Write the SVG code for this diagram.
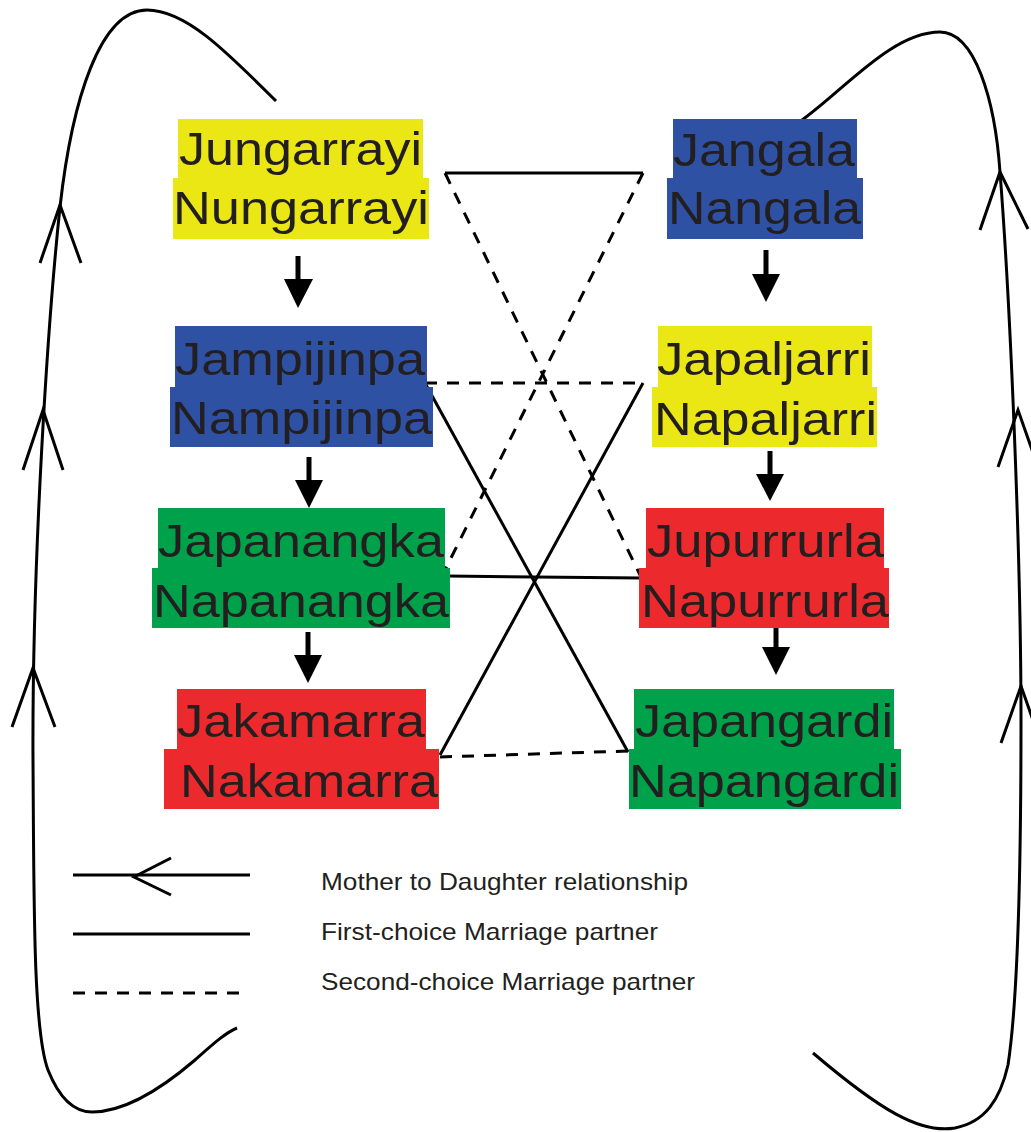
<svg xmlns="http://www.w3.org/2000/svg" width="1031" height="1132" viewBox="0 0 1031 1132">
<style>
.t{font-family:"Liberation Sans",Arial,sans-serif;font-size:46px;fill:#231f20}
.lg{font-family:"Liberation Sans",Arial,sans-serif;font-size:24px;fill:#231f20}
.y{fill:#eae715}.b{fill:#2e51a3}.g{fill:#00a14b}.r{fill:#ec2a2e}
.s{stroke:#000;stroke-width:3;fill:none}
.d{stroke:#000;stroke-width:3;fill:none;stroke-dasharray:12 10}
.ah{fill:#000}
</style>
<rect width="1031" height="1132" fill="#fff"/>
<g id="connectors">
<path class="s" d="M276,101 C225,50 185,10 147,10 C100,10 72,100 60,207 C48,320 32,560 33,760 C34,900 33,1030 48,1070 C60,1100 75,1112 92,1112 C125,1112 160,1090 195,1060 C212,1045 225,1033 237,1028"/>
<path class="s" d="M40,263 L60,205 L81,263 M23,470 L43,410 L63,470 M12,727 L33,668 L55,727"/>
<path class="s" d="M795,125 C840,95 890,32 940,32 C975,32 995,100 1000,172 C1010,300 1021,550 1021,720 C1021,880 1018,1000 1008,1065 C1000,1100 985,1122 955,1128 C920,1134 880,1110 813,1053"/>
<path class="s" d="M980,230 L1000,172 L1028,229 M998,467 L1018,410 L1038,467 M1001,743 L1021,686 L1041,743"/>
<line class="s" x1="445" y1="173" x2="643" y2="173"/>
<line class="d" x1="445" y1="173" x2="641" y2="577"/>
<line class="d" x1="643" y1="173" x2="442" y2="576"/>
<line class="d" x1="425" y1="383" x2="643" y2="383"/>
<line class="s" x1="643" y1="383" x2="440" y2="755"/>
<line class="s" x1="425" y1="383" x2="628" y2="752"/>
<line class="s" x1="447" y1="576" x2="641" y2="578"/>
<line class="d" x1="440" y1="757" x2="628" y2="751"/>
<line x1="298" y1="256" x2="298" y2="282" stroke="#000" stroke-width="5"/>
<polygon class="ah" points="284,279 313,279 298,308"/>
<line x1="309" y1="457" x2="309" y2="483" stroke="#000" stroke-width="5"/>
<polygon class="ah" points="295,480 323,480 309,508"/>
<line x1="308" y1="632" x2="308" y2="658" stroke="#000" stroke-width="5"/>
<polygon class="ah" points="294,655 322,655 308,683"/>
<line x1="766" y1="250" x2="766" y2="277" stroke="#000" stroke-width="5"/>
<polygon class="ah" points="752,274 780,274 766,302"/>
<line x1="770" y1="451" x2="770" y2="477" stroke="#000" stroke-width="5"/>
<polygon class="ah" points="756,474 784,474 770,501"/>
<line x1="776" y1="622" x2="776" y2="650" stroke="#000" stroke-width="5"/>
<polygon class="ah" points="762,647 790,647 776,675"/>
</g>
<g id="n-jungarrayi">
<rect class="y" x="178" y="119" width="245" height="60"/>
<rect class="y" x="173" y="178" width="256" height="61"/>
<text class="t" x="179" y="165" textLength="243" lengthAdjust="spacingAndGlyphs">Jungarrayi</text>
<text class="t" x="173" y="224" textLength="256" lengthAdjust="spacingAndGlyphs">Nungarrayi</text>
</g>
<g id="n-jangala">
<rect class="b" x="673" y="119" width="184" height="60"/>
<rect class="b" x="667" y="178" width="196" height="61"/>
<text class="t" x="673" y="166" textLength="182" lengthAdjust="spacingAndGlyphs">Jangala</text>
<text class="t" x="668" y="224" textLength="193" lengthAdjust="spacingAndGlyphs">Nangala</text>
</g>
<g id="n-jampijinpa">
<rect class="b" x="175" y="326" width="252" height="62"/>
<rect class="b" x="170" y="387" width="263" height="60"/>
<text class="t" x="175" y="375" textLength="250" lengthAdjust="spacingAndGlyphs">Jampijinpa</text>
<text class="t" x="171" y="434" textLength="261" lengthAdjust="spacingAndGlyphs">Nampijinpa</text>
</g>
<g id="n-japaljarri">
<rect class="y" x="658" y="326" width="214" height="62"/>
<rect class="y" x="652" y="387" width="225" height="60"/>
<text class="t" x="657" y="375" textLength="214" lengthAdjust="spacingAndGlyphs">Japaljarri</text>
<text class="t" x="654" y="435" textLength="223" lengthAdjust="spacingAndGlyphs">Napaljarri</text>
</g>
<g id="n-japanangka">
<rect class="g" x="158" y="508" width="287" height="61"/>
<rect class="g" x="152" y="568" width="298" height="60"/>
<text class="t" x="158" y="557" textLength="286" lengthAdjust="spacingAndGlyphs">Japanangka</text>
<text class="t" x="153" y="617" textLength="296" lengthAdjust="spacingAndGlyphs">Napanangka</text>
</g>
<g id="n-jupurrurla">
<rect class="r" x="646" y="508" width="238" height="61"/>
<rect class="r" x="639" y="568" width="250" height="60"/>
<text class="t" x="647" y="557" textLength="237" lengthAdjust="spacingAndGlyphs">Jupurrurla</text>
<text class="t" x="641" y="617" textLength="248" lengthAdjust="spacingAndGlyphs">Napurrurla</text>
</g>
<g id="n-jakamarra">
<rect class="r" x="177" y="689" width="249" height="61"/>
<rect class="r" x="164" y="749" width="275" height="60"/>
<text class="t" x="177" y="737" textLength="248" lengthAdjust="spacingAndGlyphs">Jakamarra</text>
<text class="t" x="180" y="797" textLength="258" lengthAdjust="spacingAndGlyphs">Nakamarra</text>
</g>
<g id="n-japangardi">
<rect class="g" x="634" y="689" width="260" height="61"/>
<rect class="g" x="629" y="749" width="272" height="60"/>
<text class="t" x="635" y="737" textLength="258" lengthAdjust="spacingAndGlyphs">Japangardi</text>
<text class="t" x="629" y="797" textLength="270" lengthAdjust="spacingAndGlyphs">Napangardi</text>
</g>
<g id="legend">
<line class="s" x1="73" y1="875" x2="250" y2="875"/>
<path class="s" d="M171,858 L134,877 L171,895"/>
<line class="s" x1="73" y1="934" x2="250" y2="934"/>
<line class="d" x1="73" y1="993" x2="248" y2="993"/>
<text class="lg" x="321" y="890" textLength="367" lengthAdjust="spacingAndGlyphs">Mother to Daughter relationship</text>
<text class="lg" x="321" y="940" textLength="337" lengthAdjust="spacingAndGlyphs">First-choice Marriage partner</text>
<text class="lg" x="321" y="990" textLength="374" lengthAdjust="spacingAndGlyphs">Second-choice Marriage partner</text>
</g>
</svg>
